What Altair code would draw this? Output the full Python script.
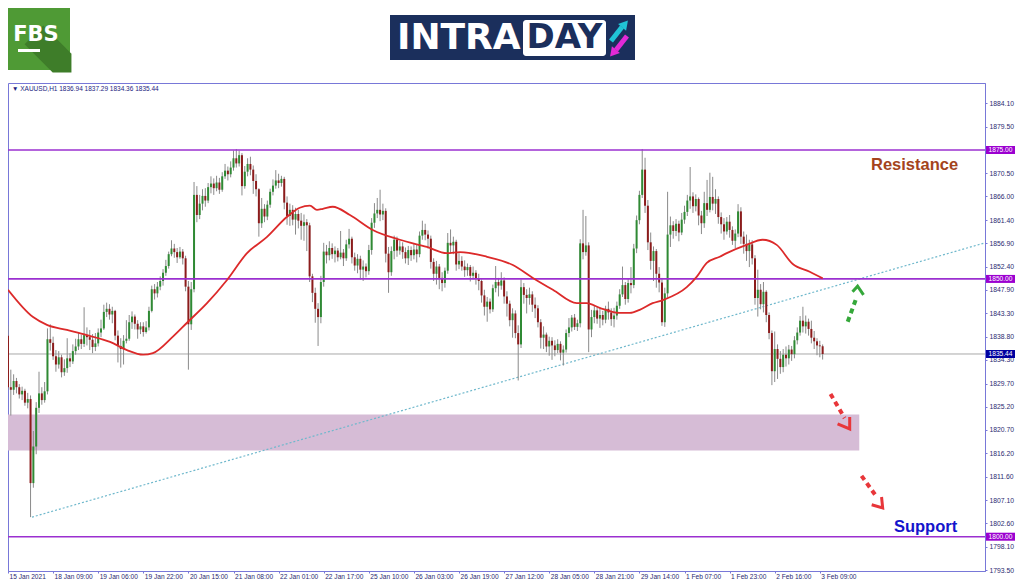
import altair as alt
import pandas as pd

# ---------------- data ----------------
first_open = 1839.0
closes = [
    1829.0, 1828.5, 1830.2, 1829.0, 1827.6, 1828.3, 1826.0, 1826.7, 1810.4, 1817.5,
    1825.0, 1827.8, 1826.5, 1828.2, 1838.3, 1837.6, 1835.0, 1833.4, 1834.8, 1831.9,
    1832.7, 1834.6, 1834.0, 1836.0, 1836.9, 1838.3, 1837.4, 1839.1, 1838.7, 1838.2,
    1836.8, 1837.5, 1839.6, 1840.4, 1843.6, 1844.2, 1843.1, 1843.8, 1839.0, 1837.0,
    1836.4, 1838.0, 1838.4, 1841.6, 1842.7, 1841.3, 1840.2, 1840.8, 1839.7, 1840.6,
    1843.8, 1848.0, 1847.2, 1848.5, 1849.6, 1851.2, 1852.5, 1854.8, 1855.9, 1855.2,
    1854.2, 1855.3, 1854.0, 1848.5, 1841.2, 1848.0, 1866.3, 1862.4, 1864.6, 1866.1,
    1865.2, 1867.8, 1868.5, 1867.6, 1868.7, 1867.3, 1869.9, 1871.0, 1870.3, 1871.6,
    1873.4, 1872.4, 1874.0, 1868.0, 1870.8, 1872.3, 1871.2, 1869.0, 1867.4, 1860.8,
    1863.6, 1862.1, 1864.4, 1866.9, 1868.1, 1869.1, 1868.6, 1869.4, 1864.8, 1862.2,
    1863.4, 1861.5, 1862.6, 1861.3, 1860.3, 1861.0, 1860.4, 1850.5, 1847.3, 1844.2,
    1842.6, 1849.4, 1855.3, 1854.6, 1856.0, 1854.8, 1855.5, 1854.2, 1855.1, 1854.0,
    1856.7, 1857.8, 1854.2, 1852.6, 1853.9, 1851.8, 1852.4, 1851.5, 1855.6, 1860.9,
    1862.7, 1863.4, 1862.5, 1863.2, 1854.9, 1851.3, 1855.4, 1857.6, 1855.5, 1856.3,
    1855.2, 1854.0, 1855.6, 1854.6, 1855.7, 1854.8, 1858.4, 1859.5, 1858.6, 1857.8,
    1853.3, 1851.0, 1852.4, 1850.2, 1849.2, 1851.6, 1857.0, 1856.5, 1857.2, 1852.8,
    1853.5, 1852.4, 1851.7, 1852.3, 1850.6, 1851.2, 1850.1, 1849.6, 1846.8, 1844.6,
    1845.6, 1844.1, 1848.2, 1849.4, 1848.7, 1849.7, 1846.6, 1845.2, 1842.0, 1843.3,
    1839.5, 1837.3, 1848.4, 1846.9, 1846.3, 1847.0, 1845.0, 1844.3, 1841.6, 1838.6,
    1839.2, 1836.9, 1838.0, 1837.1, 1836.2, 1837.4, 1835.7, 1836.3, 1839.5, 1840.6,
    1842.5, 1840.7, 1841.4, 1856.9, 1855.2, 1856.5, 1840.2, 1842.6, 1843.9, 1842.3,
    1843.0, 1842.1, 1844.2, 1843.5, 1842.2, 1842.9, 1844.8, 1847.0, 1848.8, 1846.1,
    1849.2, 1848.8, 1855.9, 1861.4, 1866.3, 1871.2, 1864.2, 1857.1, 1853.5, 1855.4,
    1851.0, 1849.3, 1841.6, 1847.2, 1858.6, 1860.4, 1859.3, 1860.7, 1859.0, 1861.5,
    1863.0, 1865.2, 1866.0, 1864.1, 1865.5, 1862.3, 1860.8, 1864.7, 1863.4, 1865.9,
    1864.6, 1865.5, 1862.0, 1860.6, 1859.2, 1861.1, 1859.5, 1857.4, 1858.8, 1863.1,
    1858.2, 1856.8, 1855.4, 1856.7, 1854.0, 1846.3, 1847.9, 1845.1, 1847.5, 1843.0,
    1839.5, 1832.1, 1836.4, 1834.5, 1832.9, 1835.3, 1834.6, 1836.3, 1835.4, 1838.1,
    1839.6, 1841.9, 1840.8, 1841.7, 1840.3, 1838.6, 1837.9, 1837.1, 1836.94, 1835.44,
]
highs = [
    1841.0, 1832.4, 1831.5, 1830.8, 1829.6, 1829.1, 1828.7, 1827.9, 1827.4, 1820.5,
    1826.1, 1832.0, 1829.0, 1830.0, 1840.4, 1841.2, 1838.8, 1836.2, 1836.0, 1835.3,
    1834.4, 1838.5, 1835.6, 1837.3, 1838.4, 1839.6, 1839.2, 1844.5, 1840.6, 1840.1,
    1839.3, 1839.5, 1840.4, 1842.1, 1845.0, 1845.4, 1845.1, 1844.6, 1844.0, 1840.0,
    1838.5, 1839.1, 1842.0, 1843.0, 1843.7, 1843.1, 1842.0, 1841.6, 1841.6, 1841.8,
    1844.6, 1848.7, 1849.0, 1849.4, 1850.5, 1851.9, 1853.7, 1855.3, 1857.5, 1856.8,
    1856.0, 1856.2, 1855.8, 1854.5, 1849.6, 1849.4, 1868.8, 1868.0, 1866.3, 1867.4,
    1867.6, 1868.6, 1869.9, 1869.5, 1870.0, 1869.6, 1870.7, 1872.3, 1871.8, 1872.8,
    1874.9, 1875.2, 1874.9, 1874.4, 1871.9, 1873.4, 1873.7, 1872.0, 1870.3, 1867.6,
    1865.7, 1864.5, 1865.2, 1867.5, 1869.3, 1871.1, 1870.4, 1870.0, 1869.8, 1866.0,
    1864.6, 1864.3, 1863.8, 1863.4, 1862.8, 1862.5, 1861.6, 1860.9, 1851.0, 1848.3,
    1845.3, 1850.6, 1857.0, 1856.6, 1857.3, 1856.9, 1856.3, 1856.0, 1859.3, 1855.8,
    1857.6, 1859.7, 1858.2, 1855.1, 1854.8, 1854.5, 1853.6, 1853.0, 1856.6, 1861.8,
    1864.7, 1865.7, 1867.3, 1864.6, 1863.7, 1856.2, 1856.3, 1858.4, 1858.2, 1857.4,
    1857.1, 1856.1, 1856.4, 1856.3, 1856.9, 1856.6, 1859.2, 1861.3, 1860.7, 1859.4,
    1858.4, 1854.0, 1853.5, 1852.9, 1851.3, 1852.2, 1858.9, 1859.6, 1858.2, 1857.6,
    1855.0, 1854.4, 1853.6, 1853.0, 1852.7, 1852.4, 1851.7, 1851.0, 1849.9, 1847.9,
    1846.5, 1846.2, 1848.9, 1852.5, 1850.2, 1851.3, 1850.3, 1847.6, 1845.8, 1844.3,
    1843.9, 1841.0, 1849.9, 1849.2, 1848.0, 1848.3, 1847.6, 1846.4, 1844.9, 1842.2,
    1840.8, 1839.6, 1838.8, 1838.7, 1838.1, 1838.3, 1837.9, 1837.1, 1840.2, 1842.4,
    1843.0, 1843.2, 1842.1, 1857.7, 1863.4, 1862.2, 1857.1, 1844.0, 1844.9, 1844.6,
    1844.3, 1843.8, 1844.8, 1845.6, 1844.3, 1844.4, 1845.6, 1848.0, 1852.4, 1849.4,
    1850.0, 1852.3, 1856.8, 1862.3, 1867.1, 1875.2, 1873.5, 1865.3, 1859.0, 1856.3,
    1855.8, 1852.3, 1850.2, 1848.3, 1866.9, 1862.1, 1861.2, 1861.6, 1861.3, 1862.8,
    1864.2, 1866.3, 1871.7, 1866.8, 1866.4, 1865.8, 1863.2, 1866.9, 1869.2, 1870.6,
    1869.8, 1867.4, 1866.0, 1862.9, 1861.8, 1862.0, 1862.4, 1860.2, 1859.6, 1864.5,
    1863.9, 1859.2, 1858.6, 1857.6, 1857.5, 1854.6, 1851.8, 1849.0, 1849.4, 1847.8,
    1843.5, 1840.0, 1839.8, 1837.3, 1836.0, 1836.4, 1836.9, 1837.2, 1837.0, 1838.9,
    1840.6, 1842.8, 1844.6, 1842.9, 1842.3, 1841.9, 1839.9, 1838.5, 1838.0, 1837.29,
]
lows = [
    1828.5, 1823.5, 1827.5, 1827.8, 1826.8, 1826.5, 1825.4, 1824.9, 1803.8, 1809.5,
    1816.0, 1824.0, 1825.6, 1826.0, 1827.6, 1836.1, 1834.3, 1832.0, 1832.6, 1830.9,
    1831.2, 1831.8, 1832.9, 1833.5, 1835.3, 1836.2, 1836.4, 1836.8, 1837.1, 1836.2,
    1835.6, 1836.0, 1836.9, 1838.7, 1840.1, 1842.6, 1842.1, 1841.4, 1838.1, 1833.8,
    1832.8, 1833.4, 1837.5, 1838.0, 1840.3, 1840.2, 1838.4, 1839.3, 1838.8, 1839.4,
    1840.0, 1843.5, 1846.0, 1846.4, 1847.8, 1848.7, 1850.6, 1852.0, 1854.4, 1854.1,
    1853.1, 1853.9, 1852.8, 1847.6, 1832.4, 1840.1, 1847.4, 1861.0, 1861.6, 1863.3,
    1864.0, 1864.7, 1866.6, 1866.3, 1867.0, 1866.5, 1866.9, 1869.4, 1869.1, 1869.7,
    1871.0, 1871.6, 1871.8, 1866.2, 1867.5, 1869.9, 1870.1, 1866.5, 1866.0, 1858.2,
    1859.9, 1861.0, 1861.4, 1863.8, 1866.2, 1867.5, 1867.6, 1867.9, 1863.5, 1860.5,
    1860.3, 1860.4, 1858.6, 1859.8, 1857.6, 1857.4, 1855.4, 1849.4, 1845.5, 1841.5,
    1837.0, 1841.4, 1848.5, 1853.0, 1853.6, 1853.9, 1853.2, 1853.4, 1853.8, 1852.5,
    1853.5, 1855.9, 1853.0, 1851.6, 1851.1, 1849.9, 1849.6, 1850.3, 1850.8, 1854.7,
    1859.9, 1861.8, 1861.2, 1861.4, 1853.2, 1847.3, 1850.6, 1853.8, 1854.3, 1854.7,
    1853.9, 1853.0, 1852.7, 1853.5, 1853.8, 1853.2, 1854.2, 1857.6, 1857.5, 1855.9,
    1852.0, 1849.6, 1848.9, 1848.0, 1847.6, 1848.3, 1851.0, 1855.0, 1854.8, 1851.6,
    1851.9, 1851.6, 1850.4, 1850.6, 1849.5, 1849.9, 1848.9, 1847.8, 1845.4, 1842.9,
    1841.7, 1843.3, 1843.6, 1847.4, 1846.6, 1847.9, 1845.2, 1842.7, 1840.8, 1838.6,
    1838.5, 1830.3, 1836.6, 1845.2, 1843.3, 1845.0, 1843.6, 1842.4, 1840.6, 1836.5,
    1836.4, 1835.8, 1835.1, 1834.3, 1835.0, 1835.6, 1834.2, 1833.2, 1835.7, 1838.7,
    1839.8, 1840.1, 1839.9, 1840.6, 1853.8, 1854.5, 1835.8, 1838.7, 1841.4, 1841.3,
    1840.5, 1841.0, 1841.4, 1842.1, 1840.9, 1840.6, 1842.1, 1844.2, 1846.5, 1845.0,
    1845.4, 1847.2, 1848.2, 1855.0, 1860.6, 1865.7, 1862.8, 1855.6, 1851.8, 1849.6,
    1848.3, 1847.4, 1840.9, 1840.7, 1846.4, 1856.2, 1857.8, 1858.3, 1857.3, 1858.5,
    1860.7, 1862.2, 1863.6, 1862.8, 1863.1, 1860.4, 1858.7, 1859.9, 1862.2, 1862.9,
    1863.3, 1862.6, 1860.7, 1858.8, 1857.6, 1858.6, 1858.0, 1856.6, 1856.0, 1858.1,
    1856.8, 1854.9, 1853.5, 1852.3, 1852.8, 1845.0, 1842.7, 1844.1, 1843.5, 1841.6,
    1838.3, 1829.4, 1830.0, 1830.6, 1831.6, 1831.9, 1833.0, 1833.4, 1834.1, 1834.6,
    1837.3, 1839.0, 1839.6, 1839.4, 1839.0, 1837.5, 1836.4, 1835.2, 1834.8, 1834.36,
]

# moving average (red line), read at these bar positions
ma_index = [0, 8.9, 13.8, 20.9, 28.0, 36.2, 42.2, 47.9, 51.4, 58.5, 63.5, 70.6, 77.7,
            84.8, 91.8, 98.9, 103.5, 107.1, 109.6, 111.7, 115.2, 121.3, 129.4, 139.0,
            148.6, 155.7, 160.3, 169.9, 179.1, 186.2, 193.3, 201.8, 205.3, 209.9, 217.0,
            220.6, 224.1, 228.7, 232.3, 240.8, 244.3, 247.9, 252.5, 255.0, 262.0, 267.7,
            272.7, 278.4, 284.4, 289.0]
ma_value = [1847.9, 1842.6, 1841.1, 1840.1, 1839.1, 1837.8, 1836.2, 1835.3, 1835.6, 1838.8,
            1841.5, 1845.3, 1849.8, 1855.0, 1858.1, 1862.0, 1863.8, 1864.2, 1863.4, 1863.6,
            1864.0, 1862.4, 1859.5, 1857.6, 1856.2, 1855.0, 1855.2, 1854.3, 1852.7, 1850.2,
            1847.9, 1845.3, 1845.3, 1844.4, 1843.4, 1843.4, 1844.0, 1845.3, 1845.9, 1848.4,
            1850.4, 1853.1, 1854.3, 1855.0, 1856.6, 1857.6, 1856.6, 1852.9, 1851.4, 1850.1]

trend_index = [8.5, 346.6]
trend_price = [1803.8, 1857.0]

level_price = [1875.0, 1850.0, 1800.0]
level_label = ["1875.00", "1850.00", "1800.00"]
current_price = 1835.44

zone_index = [0, 302]
zone_price = [1816.7, 1823.7]

x_labels = ["15 Jan 2021", "18 Jan 09:00", "19 Jan 06:00", "19 Jan 22:00", "20 Jan 15:00",
            "21 Jan 08:00", "22 Jan 01:00", "22 Jan 17:00", "25 Jan 10:00", "26 Jan 03:00",
            "26 Jan 19:00", "27 Jan 12:00", "28 Jan 05:00", "28 Jan 21:00", "29 Jan 14:00",
            "1 Feb 07:00", "1 Feb 23:00", "2 Feb 16:00", "3 Feb 09:00"]
x_label_step = 16
y_ticks = [1884.1, 1879.5, 1870.5, 1866.0, 1861.4, 1856.9, 1852.4, 1847.9, 1843.3, 1838.8,
           1834.3, 1829.7, 1825.2, 1820.7, 1816.2, 1811.6, 1807.1, 1802.6, 1798.1, 1793.5]

# dashed scenario arrows: shaft start/end and head polyline (bar index, price)
arrow_name = ["up", "down1", "down2"]
arrow_color = ["#35a83a", "#e8363a", "#e8363a"]
shaft_i1 = [297.9, 291.8, 302.8]
shaft_p1 = [1841.7, 1827.7, 1811.8]
shaft_i2 = [301.1, 296.8, 308.2]
shaft_p2 = [1846.5, 1823.0, 1807.7]
head_i = [[299.6, 301.4, 303.5], [294.3, 298.6, 298.6], [306.4, 310.3, 309.9]]
head_p = [[1847.5, 1848.6, 1846.9], [1821.9, 1820.9, 1823.2], [1806.2, 1805.6, 1807.7]]

info_text = "\u25bc XAUUSD,H1  1836.94 1837.29 1834.36 1835.44"

# ---------------- frames ----------------
opens = [first_open] + closes[:-1]
candles = pd.DataFrame({"i": list(range(len(closes))), "open": opens, "close": closes,
                        "high": highs, "low": lows})
ma_df = pd.DataFrame({"i": ma_index, "p": ma_value})
trend_df = pd.DataFrame({"i": trend_index[:1], "i2": trend_index[1:], "p": trend_price[:1],
                         "p2": trend_price[1:]})
levels_df = pd.DataFrame({"p": level_price, "lab": level_label})
cur_df = pd.DataFrame({"p": [current_price], "lab": [f"{current_price:.2f}"]})
zone_df = pd.DataFrame({"i": [zone_index[0]], "i2": [zone_index[1]], "p": [zone_price[0]],
                        "p2": [zone_price[1]]})
shaft_df = pd.DataFrame({"name": arrow_name, "c": arrow_color, "i": shaft_i1, "p": shaft_p1,
                         "i2": shaft_i2, "p2": shaft_p2})
head_rows = []
for k, nm in enumerate(arrow_name):
    for j in range(3):
        head_rows.append({"name": nm, "c": arrow_color[k], "o": j, "i": head_i[k][j],
                          "p": head_p[k][j]})
head_df = pd.DataFrame(head_rows)
one = pd.DataFrame({"k": [0]})

W, H = 977, 488
FRAME = "#7878d8"
AXCOL = "#2a2a70"

xs = alt.Scale(domain=[0, 346.6], nice=False, zero=False, padding=0)
ys = alt.Scale(domain=[1793.35, 1888.0], nice=False, zero=False, padding=0)

label_arr = "[" + ",".join("'" + s + "'" for s in x_labels) + "]"
x_axis = alt.Axis(values=[k * x_label_step for k in range(len(x_labels))],
                  labelExpr=label_arr + "[round(datum.value/" + str(x_label_step) + ")]",
                  title=None, grid=False, labelAlign="left", labelOffset=1, labelPadding=0,
                  labelFont="Liberation Sans", labelFontSize=6.6, labelColor=AXCOL,
                  tickSize=2, tickColor=FRAME, domainColor=FRAME, labelOverlap=False,
                  labelBound=False, labelFlush=False)
y_axis = alt.Axis(values=y_ticks, format=".2f", orient="right", title=None, grid=False,
                  labelFont="Liberation Sans", labelFontSize=6.8, labelColor=AXCOL,
                  tickSize=2, tickColor=FRAME, domainColor=FRAME, labelPadding=2,
                  labelOverlap=False, labelBound=False, labelFlush=False)

def X(f="i"):
    return alt.X(f + ":Q", scale=xs, axis=x_axis)

def Y(f="p"):
    return alt.Y(f + ":Q", scale=ys, axis=y_axis)

zone = alt.Chart(zone_df).mark_rect(color="#d6bcd6").encode(
    x=X(), x2="i2:Q", y=Y(), y2="p2:Q")

cur_line = alt.Chart(cur_df).mark_rule(color="#a8a8a8", strokeWidth=1).encode(y=Y())

trend = alt.Chart(trend_df).mark_rule(color="#6fb8cc", strokeWidth=1.2,
                                      strokeDash=[2, 2]).encode(
    x=X(), x2="i2:Q", y=Y(), y2="p2:Q")

wicks = alt.Chart(candles).mark_rule(color="#8a8a8a", strokeWidth=1).encode(
    x=X(), y=Y("low"), y2="high:Q")

bodies = alt.Chart(candles).mark_bar(size=2).encode(
    x=X(), y=Y("open"), y2="close:Q",
    color=alt.condition("datum.close >= datum.open", alt.value("#2f8a34"),
                        alt.value("#8c1c1c")))

levels = alt.Chart(levels_df).mark_rule(color="#9b30d0", strokeWidth=1.6).encode(y=Y())

ma = alt.Chart(ma_df).mark_line(color="#dc2a2a", strokeWidth=1.8,
                                interpolate="monotone").encode(x=X(), y=Y())

shafts = alt.Chart(shaft_df).mark_rule(strokeWidth=4, strokeDash=[5, 4]).encode(
    x=X(), x2="i2:Q", y=Y(), y2="p2:Q", color=alt.Color("c:N", scale=None))
heads = alt.Chart(head_df).mark_line(strokeWidth=3).encode(
    x=X(), y=Y(), detail="name:N", order="o:Q", color=alt.Color("c:N", scale=None))

res_txt = alt.Chart(pd.DataFrame({"i": [321.6], "p": [1872.1], "t": ["Resistance"]})).mark_text(
    font="Liberation Sans", fontWeight="bold", fontSize=16.5, color="#a4441c").encode(
    x=X(), y=Y(), text="t:N")
sup_txt = alt.Chart(pd.DataFrame({"i": [325.5], "p": [1801.9], "t": ["Support"]})).mark_text(
    font="Liberation Sans", fontWeight="bold", fontSize=16.5, color="#1414cc").encode(
    x=X(), y=Y(), text="t:N")

info = alt.Chart(one).mark_text(align="left", baseline="middle", font="Liberation Sans",
                                fontSize=6.5, color="#1c1c80").encode(
    x=alt.value(4), y=alt.value(6), text=alt.value(info_text))

# price boxes on the right axis
lvl_box = alt.Chart(levels_df).mark_rect(color="#9b00d0", yOffset=-4, y2Offset=4).encode(
    x=alt.value(W + 1), x2=alt.value(W + 30), y=Y(), y2="p:Q")
lvl_txt = alt.Chart(levels_df).mark_text(color="white", font="Liberation Sans",
                                         fontSize=6.6).encode(
    x=alt.value(W + 15.5), y=Y(), text="lab:N")
cur_box = alt.Chart(cur_df).mark_rect(color="#0000a0", yOffset=-4, y2Offset=4).encode(
    x=alt.value(W + 1), x2=alt.value(W + 30), y=Y(), y2="p:Q")
cur_txt = alt.Chart(cur_df).mark_text(color="white", font="Liberation Sans",
                                      fontSize=6.6).encode(
    x=alt.value(W + 15.5), y=Y(), text="lab:N")

# logos (above the plot area)
def vrect(x1, x2, y1, y2, color, **kw):
    return alt.Chart(one).mark_rect(color=color, **kw).encode(
        x=alt.value(x1), x2=alt.value(x2), y=alt.value(y1), y2=alt.value(y2))

def vtext(x, y, t, **kw):
    return alt.Chart(one).mark_text(**kw).encode(x=alt.value(x), y=alt.value(y),
                                                  text=alt.value(t))

fbs_bg = vrect(-3, 62, -78, -13, "#4f9a35")
fbs_sh = alt.Chart(one).mark_point(shape="M-1,-0.2L0.2,1L1,1L1,0.2L-0.2,-1Z", filled=True,
                                   color="#3e7d29", opacity=1, size=2200).encode(
    x=alt.value(40), y=alt.value(-34))
fbs_tx = vtext(28, -48, "FBS", font="DejaVu Sans", fontWeight="bold", fontSize=21,
               color="white", align="center", baseline="middle")
fbs_ul = vrect(10, 32, -34, -31, "white")

intra_bg = vrect(382, 627, -68, -23, "#1b2f5c")
intra_tx = vtext(389, -45, "INTRA", font="DejaVu Sans", fontWeight="bold", fontSize=36,
                 color="white", align="left", baseline="middle")
day_bg = vrect(515, 598, -63, -27, "white", cornerRadius=3)
day_tx = vtext(556.5, -45, "DAY", font="DejaVu Sans", fontWeight="bold", fontSize=34,
               color="#1b2f5c", align="center", baseline="middle")
arr_up_shaft = alt.Chart(one).mark_rule(color="#20c4d6", strokeWidth=5).encode(
    x=alt.value(603), x2=alt.value(614), y=alt.value(-42), y2=alt.value(-56))
arr_up_head = alt.Chart(one).mark_point(shape="triangle-up", filled=True, color="#20c4d6",
                                        opacity=1, size=110, angle=40).encode(
    x=alt.value(617), y=alt.value(-59))
arr_dn_shaft = alt.Chart(one).mark_rule(color="#e22ad6", strokeWidth=5).encode(
    x=alt.value(619), x2=alt.value(608), y=alt.value(-47), y2=alt.value(-33))
arr_dn_head = alt.Chart(one).mark_point(shape="triangle-up", filled=True, color="#e22ad6",
                                        opacity=1, size=110, angle=220).encode(
    x=alt.value(605), y=alt.value(-30))

chart = alt.layer(
    zone, cur_line, trend, wicks, bodies, levels, ma, shafts, heads, res_txt, sup_txt, info,
    lvl_box, lvl_txt, cur_box, cur_txt,
    fbs_bg, fbs_sh, fbs_tx, fbs_ul, intra_bg, intra_tx, day_bg, day_tx,
    arr_up_shaft, arr_up_head, arr_dn_shaft, arr_dn_head,
).properties(
    width=W, height=H,
    autosize=alt.AutoSizeParams(type="none"),
    padding={"left": 0, "top": 75, "right": 31, "bottom": 8},
    background="white",
).configure_view(stroke=FRAME, strokeWidth=1)

chart.save("out.html", embed_options={"renderer": "svg", "actions": False})
